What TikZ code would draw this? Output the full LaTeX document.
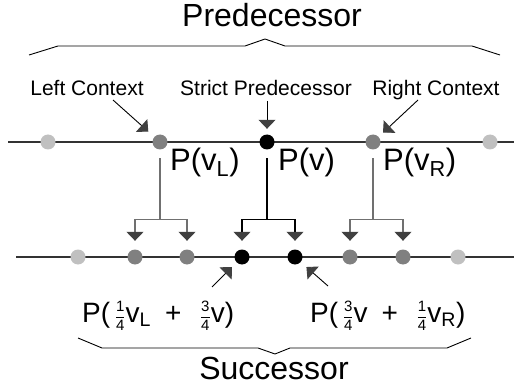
\documentclass[tikz,border=0pt]{standalone}
\usepackage{fontspec}
\setmainfont{Liberation Sans}
\usepackage{amsmath}
\usepackage{xcolor}
\usepackage{tikz}
\usetikzlibrary{arrows.meta}
\usetikzlibrary{positioning}
\definecolor{lightdot}{HTML}{C0C0C0}
\definecolor{middot}{HTML}{808080}
\definecolor{forkgray}{HTML}{707070}
\definecolor{tipgray}{HTML}{404040}
\definecolor{linegray}{HTML}{333333}
\tikzstyle{dot} = [circle, inner sep=0pt, minimum size=15pt]
\tikzstyle{outer dot} = [dot, fill=lightdot]
\tikzstyle{context dot} = [dot, fill=middot]
\tikzstyle{centre dot} = [dot, fill=black]
\tikzstyle{curve line} = [draw=linegray, line width=1.6pt]
\tikzstyle{bracket line} = [draw=black, line width=0.9pt]
\tikzstyle{headtip} = [-{Triangle[width=17pt,length=9pt,color=tipgray,fill=tipgray]}]
\tikzstyle{pointer} = [draw, line width=0.9pt, headtip]
\tikzstyle{fork} = [draw, line width=1.3pt]
\tikzstyle{heading} = [font=\fontsize{32}{36}\selectfont, inner sep=0pt]
\tikzstyle{caption} = [font=\fontsize{21}{24}\selectfont, inner sep=0pt]
\tikzstyle{plabel} = [font=\fontsize{31}{36}\selectfont, inner sep=0pt]
\tikzstyle{qlabel} = [font=\fontsize{28}{32}\selectfont, inner sep=0pt]
\newcommand{\quarter}[2]{\,$\vcenter{\hbox{\fontsize{15}{15}\selectfont
  $\genfrac{}{}{0.6pt}{0}{\text{#1}}{\text{#2}}$}}$}

\begin{document}
\begin{tikzpicture}[x=1pt, y=-1pt, node distance=55pt]
  \useasboundingbox (0,0) rectangle (514,385);
  % Curves
  \coordinate (top start) at (8,142);
  \coordinate (top end) at (514,142);
  \coordinate (bottom start) at (16,257);
  \coordinate (bottom end) at (514,257);
  \draw [curve line] (top start) -- (top end);
  \draw [curve line] (bottom start) -- (bottom end);

  % Place nodes
  \node [outer dot] (t1) at (48,142) {};
  \node [context dot, right of=t1, node distance=112pt] (pl) {};
  \node [centre dot, right of=pl, node distance=107pt] (pv) {};
  \node [context dot, right of=pv, node distance=106pt] (pr) {};
  \node [outer dot, right of=pr, node distance=117pt] (t2) {};

  \node [outer dot] (b1) at (78,257) {};
  \node [context dot, right of=b1, node distance=57pt] (b2) {};
  \node [context dot, right of=b2, node distance=52pt] (b3) {};
  \node [centre dot, right of=b3] (b4) {};
  \node [centre dot, right of=b4, node distance=53pt] (b5) {};
  \node [context dot, right of=b5] (b6) {};
  \node [context dot, right of=b6, node distance=53pt] (b7) {};
  \node [outer dot, right of=b7] (b8) {};

  % Labels
  \node [heading, anchor=base] (pred) at (272,27) {Predecessor};
  \node [heading, anchor=base] (succ) at (274,379) {Successor};
  \node [caption, anchor=base] (lc) at (87,96) {Left Context};
  \node [caption, anchor=base] (sp) at (266,96) {Strict Predecessor};
  \node [caption, anchor=base] (rc) at (436,96) {Right Context};
  \node [plabel, anchor=base west] (lpl) at (170,170) {P(v\textsubscript{L})};
  \node [plabel, anchor=base west] (lpv) at (278,170) {P(v)};
  \node [plabel, anchor=base west] (lpr) at (383,170) {P(v\textsubscript{R})};
  \node [qlabel, anchor=base west] (lql) at (82,322)
    {P(\quarter14v\textsubscript{L}\enspace+\enspace\quarter34v)};
  \node [qlabel, anchor=base west] (lqr) at (310,322)
    {P(\quarter34v\enspace+\enspace\quarter14v\textsubscript{R})};

  % Braces
  \draw [bracket line] (29,55) -- (58,46) -- (245,46) -- (265,39) -- (285,46) -- (472,46) -- (500,55);
  \draw [bracket line] (78,338) -- (102,348) -- (258,348) -- (275,354) -- (290,348) -- (447,348) -- (471,338);

  % Pointers
  \coordinate (lc foot) at (113,100);
  \coordinate (sp foot) at (267,101);
  \coordinate (rc foot) at (418,100);
  \coordinate (ql foot) at (212,287);
  \coordinate (qr foot) at (328,286);
  \path [pointer, shorten >=8pt] (lc foot) -- (pl);
  \path [pointer, shorten >=5.5pt] (sp foot) -- (pv);
  \path [pointer, shorten >=6pt] (rc foot) -- (pr);
  \path [pointer, shorten >=6.5pt] (ql foot) -- (b4);
  \path [pointer, shorten >=7.5pt] (qr foot) -- (b5);

  % Draw forks
  \coordinate [below=70pt of pl] (jl);
  \coordinate [below=70pt of pv] (jv);
  \coordinate [below=70pt of pr] (jr);
  \path [fork, draw=forkgray, shorten <=8.5pt] (pl) -- (jl);
  \path [fork, draw=forkgray, headtip, shorten >=8.5pt] (jl) -| (b2);
  \path [fork, draw=forkgray, headtip, shorten >=8.5pt] (jl) -| (b3);
  \path [fork, draw=black, shorten <=8.5pt] (pv) -- (jv);
  \path [fork, draw=black, headtip, shorten >=8.5pt] (jv) -| (b4);
  \path [fork, draw=black, headtip, shorten >=8.5pt] (jv) -| (b5);
  \path [fork, draw=forkgray, shorten <=8.5pt] (pr) -- (jr);
  \path [fork, draw=forkgray, headtip, shorten >=8.5pt] (jr) -| (b6);
  \path [fork, draw=forkgray, headtip, shorten >=8.5pt] (jr) -| (b7);
\end{tikzpicture}
\end{document}
